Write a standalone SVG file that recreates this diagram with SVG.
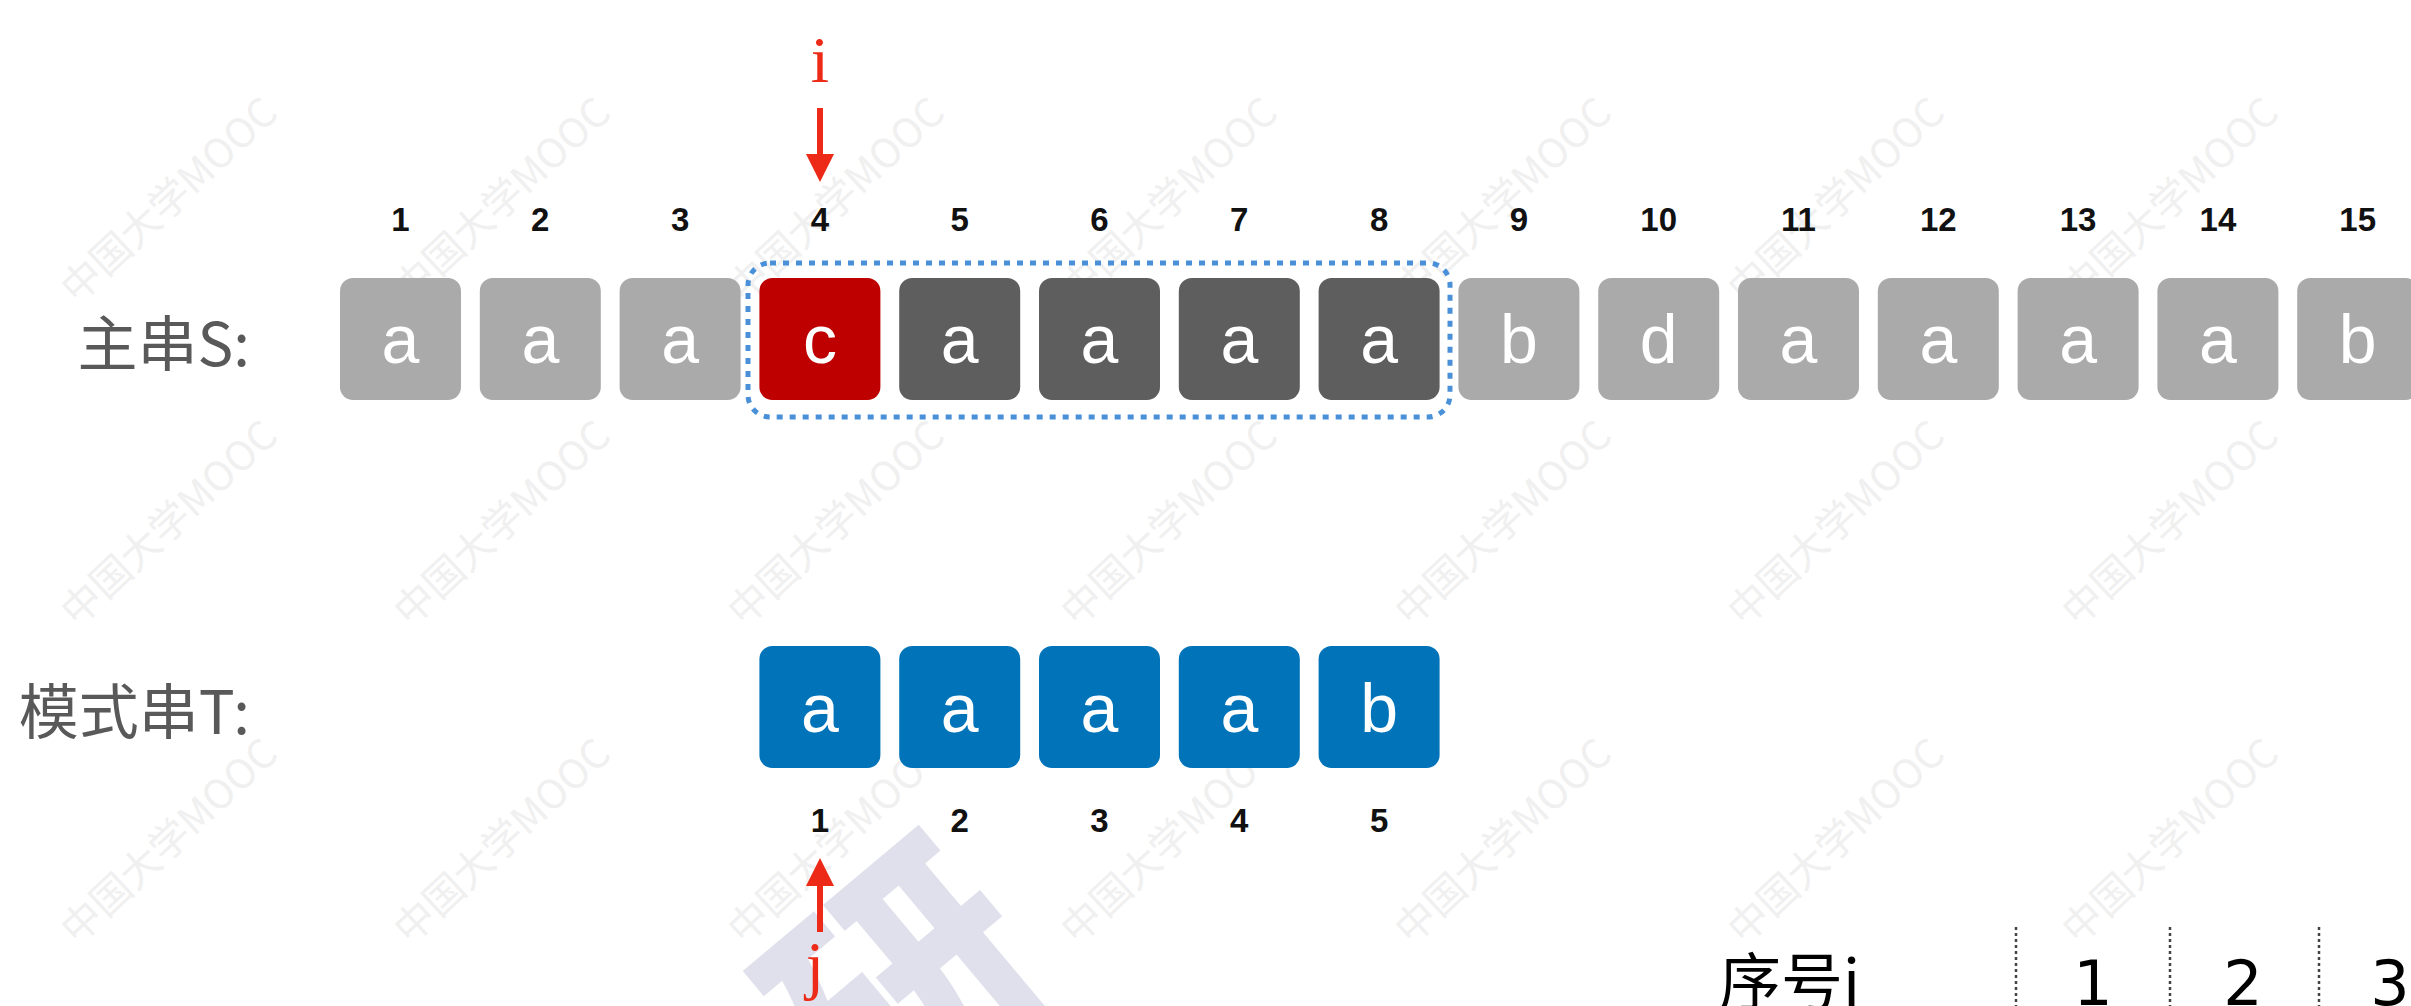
<svg xmlns="http://www.w3.org/2000/svg" width="2411" height="1006" viewBox="0 0 2411 1006">
  <style>
    .wm { font-family: "Noto Sans CJK SC", "Liberation Sans", sans-serif; font-size: 40px; fill: #f0f0f0; }
    .box { stroke: none; }
    .light { fill: #aaaaaa; }
    .dark { fill: #5e5e5e; }
    .hit { fill: #be0000; }
    .pat { fill: #0073b9; }
    .ch { font-family: "Liberation Sans", Arial, sans-serif; font-size: 68px; fill: #ffffff; text-anchor: middle; }
    .num { font-family: "Liberation Sans", Arial, sans-serif; font-size: 33px; font-weight: bold; fill: #111111; text-anchor: middle; }
    .lbl { font-family: "Noto Sans CJK SC", "Liberation Sans", sans-serif; font-size: 60px; fill: #595959; text-anchor: end; }
    .ptr { font-family: "Liberation Serif", "Times New Roman", serif; font-size: 66px; fill: #ec2a17; text-anchor: middle; }
    .arrow { stroke: #ec2a17; stroke-width: 6; fill: none; }
    .tbl { font-family: "Noto Sans CJK SC", "Liberation Sans", sans-serif; font-size: 62px; fill: #000000; }
    .tnum { font-family: "DejaVu Sans", sans-serif; font-size: 62px; fill: #000000; text-anchor: middle; }
    .sep { stroke: #444444; stroke-width: 2.5; stroke-dasharray: 3 3; }
  </style>
  <defs>
    <marker id="head" viewBox="0 0 28 28" refX="2" refY="14" markerWidth="28" markerHeight="28" markerUnits="userSpaceOnUse" orient="auto">
      <path d="M0,0 L28,14 L0,28 z" fill="#ec2a17"/>
    </marker>
  </defs>

  <rect width="2411" height="1006" fill="#ffffff"/>

  <!-- watermarks -->
  <g id="watermarks">
    <text class="wm" transform="translate(77,305) rotate(-43)">中国大学MOOC</text>
    <text class="wm" transform="translate(410,305) rotate(-43)">中国大学MOOC</text>
    <text class="wm" transform="translate(744,305) rotate(-43)">中国大学MOOC</text>
    <text class="wm" transform="translate(1077,305) rotate(-43)">中国大学MOOC</text>
    <text class="wm" transform="translate(1411,305) rotate(-43)">中国大学MOOC</text>
    <text class="wm" transform="translate(1744,305) rotate(-43)">中国大学MOOC</text>
    <text class="wm" transform="translate(2078,305) rotate(-43)">中国大学MOOC</text>
    <text class="wm" transform="translate(77,628) rotate(-43)">中国大学MOOC</text>
    <text class="wm" transform="translate(410,628) rotate(-43)">中国大学MOOC</text>
    <text class="wm" transform="translate(744,628) rotate(-43)">中国大学MOOC</text>
    <text class="wm" transform="translate(1077,628) rotate(-43)">中国大学MOOC</text>
    <text class="wm" transform="translate(1411,628) rotate(-43)">中国大学MOOC</text>
    <text class="wm" transform="translate(1744,628) rotate(-43)">中国大学MOOC</text>
    <text class="wm" transform="translate(2078,628) rotate(-43)">中国大学MOOC</text>
    <text class="wm" transform="translate(77,946) rotate(-43)">中国大学MOOC</text>
    <text class="wm" transform="translate(410,946) rotate(-43)">中国大学MOOC</text>
    <text class="wm" transform="translate(744,946) rotate(-43)">中国大学MOOC</text>
    <text class="wm" transform="translate(1077,946) rotate(-43)">中国大学MOOC</text>
    <text class="wm" transform="translate(1411,946) rotate(-43)">中国大学MOOC</text>
    <text class="wm" transform="translate(1744,946) rotate(-43)">中国大学MOOC</text>
    <text class="wm" transform="translate(2078,946) rotate(-43)">中国大学MOOC</text>
    <text transform="translate(905,985) rotate(-40)" x="0" y="88" text-anchor="middle" font-family="Noto Sans CJK SC, sans-serif" font-weight="900" font-size="250" fill="#dfe0ec">研</text>
  </g>

  <!-- labels -->
  <g id="label-S"><text class="lbl" x="250" y="366">主串S:</text></g>
  <g id="label-T"><text class="lbl" x="250" y="734">模式串T:</text></g>

  <!-- index numbers of S -->
  <g id="s-index">
    <text class="num" x="400.5" y="231">1</text>
    <text class="num" x="540.3" y="231">2</text>
    <text class="num" x="680.1" y="231">3</text>
    <text class="num" x="819.9" y="231">4</text>
    <text class="num" x="959.7" y="231">5</text>
    <text class="num" x="1099.5" y="231">6</text>
    <text class="num" x="1239.3" y="231">7</text>
    <text class="num" x="1379.1" y="231">8</text>
    <text class="num" x="1518.9" y="231">9</text>
    <text class="num" x="1658.7" y="231">10</text>
    <text class="num" x="1798.5" y="231">11</text>
    <text class="num" x="1938.3" y="231">12</text>
    <text class="num" x="2078.1" y="231">13</text>
    <text class="num" x="2217.9" y="231">14</text>
    <text class="num" x="2357.7" y="231">15</text>
  </g>

  <!-- main string S -->
  <g id="S1"><rect class="box light" x="340" y="278" width="121" height="122" rx="13"/><text class="ch" x="400.5" y="363">a</text></g>
  <g id="S2"><rect class="box light" x="479.8" y="278" width="121" height="122" rx="13"/><text class="ch" x="540.3" y="363">a</text></g>
  <g id="S3"><rect class="box light" x="619.6" y="278" width="121" height="122" rx="13"/><text class="ch" x="680.1" y="363">a</text></g>
  <g id="S4"><rect class="box hit" x="759.4" y="278" width="121" height="122" rx="13"/><text class="ch" x="819.9" y="363">c</text></g>
  <g id="S5"><rect class="box dark" x="899.2" y="278" width="121" height="122" rx="13"/><text class="ch" x="959.7" y="363">a</text></g>
  <g id="S6"><rect class="box dark" x="1039" y="278" width="121" height="122" rx="13"/><text class="ch" x="1099.5" y="363">a</text></g>
  <g id="S7"><rect class="box dark" x="1178.8" y="278" width="121" height="122" rx="13"/><text class="ch" x="1239.3" y="363">a</text></g>
  <g id="S8"><rect class="box dark" x="1318.6" y="278" width="121" height="122" rx="13"/><text class="ch" x="1379.1" y="363">a</text></g>
  <g id="S9"><rect class="box light" x="1458.4" y="278" width="121" height="122" rx="13"/><text class="ch" x="1518.9" y="363">b</text></g>
  <g id="S10"><rect class="box light" x="1598.2" y="278" width="121" height="122" rx="13"/><text class="ch" x="1658.7" y="363">d</text></g>
  <g id="S11"><rect class="box light" x="1738" y="278" width="121" height="122" rx="13"/><text class="ch" x="1798.5" y="363">a</text></g>
  <g id="S12"><rect class="box light" x="1877.8" y="278" width="121" height="122" rx="13"/><text class="ch" x="1938.3" y="363">a</text></g>
  <g id="S13"><rect class="box light" x="2017.6" y="278" width="121" height="122" rx="13"/><text class="ch" x="2078.1" y="363">a</text></g>
  <g id="S14"><rect class="box light" x="2157.4" y="278" width="121" height="122" rx="13"/><text class="ch" x="2217.9" y="363">a</text></g>
  <g id="S15"><rect class="box light" x="2297.2" y="278" width="121" height="122" rx="13"/><text class="ch" x="2357.7" y="363">b</text></g>

  <!-- comparison window -->
  <g id="window">
    <rect x="748" y="263" width="702" height="154" rx="22" fill="none" stroke="#4a90d9" stroke-width="5" stroke-dasharray="6 7"/>
  </g>

  <!-- pattern T -->
  <g id="T1"><rect class="box pat" x="759.4" y="646" width="121" height="122" rx="13"/><text class="ch" x="819.9" y="732">a</text></g>
  <g id="T2"><rect class="box pat" x="899.2" y="646" width="121" height="122" rx="13"/><text class="ch" x="959.7" y="732">a</text></g>
  <g id="T3"><rect class="box pat" x="1039" y="646" width="121" height="122" rx="13"/><text class="ch" x="1099.5" y="732">a</text></g>
  <g id="T4"><rect class="box pat" x="1178.8" y="646" width="121" height="122" rx="13"/><text class="ch" x="1239.3" y="732">a</text></g>
  <g id="T5"><rect class="box pat" x="1318.6" y="646" width="121" height="122" rx="13"/><text class="ch" x="1379.1" y="732">b</text></g>

  <g id="t-index">
    <text class="num" x="819.9" y="832">1</text>
    <text class="num" x="959.7" y="832">2</text>
    <text class="num" x="1099.5" y="832">3</text>
    <text class="num" x="1239.3" y="832">4</text>
    <text class="num" x="1379.1" y="832">5</text>
  </g>

  <!-- pointers -->
  <g id="ptr-i"><text class="ptr" x="820" y="82">i</text></g>
  <g id="ptr-j"><text class="ptr" x="815" y="987">j</text></g>
  <g id="connectors">
    <line class="arrow" x1="820" y1="108" x2="820" y2="156" marker-end="url(#head)"/>
    <line class="arrow" x1="820" y1="932" x2="820" y2="884" marker-end="url(#head)"/>
  </g>

  <!-- table fragment -->
  <g id="table">
    <text class="tbl" x="1719" y="1005">序号j</text>
    <line class="sep" x1="2016" y1="927" x2="2016" y2="1006"/>
    <line class="sep" x1="2170" y1="927" x2="2170" y2="1006"/>
    <line class="sep" x1="2319" y1="927" x2="2319" y2="1006"/>
    <text class="tnum" x="2093" y="1005">1</text>
    <text class="tnum" x="2243" y="1005">2</text>
    <text class="tnum" x="2390" y="1005">3</text>
  </g>
</svg>
